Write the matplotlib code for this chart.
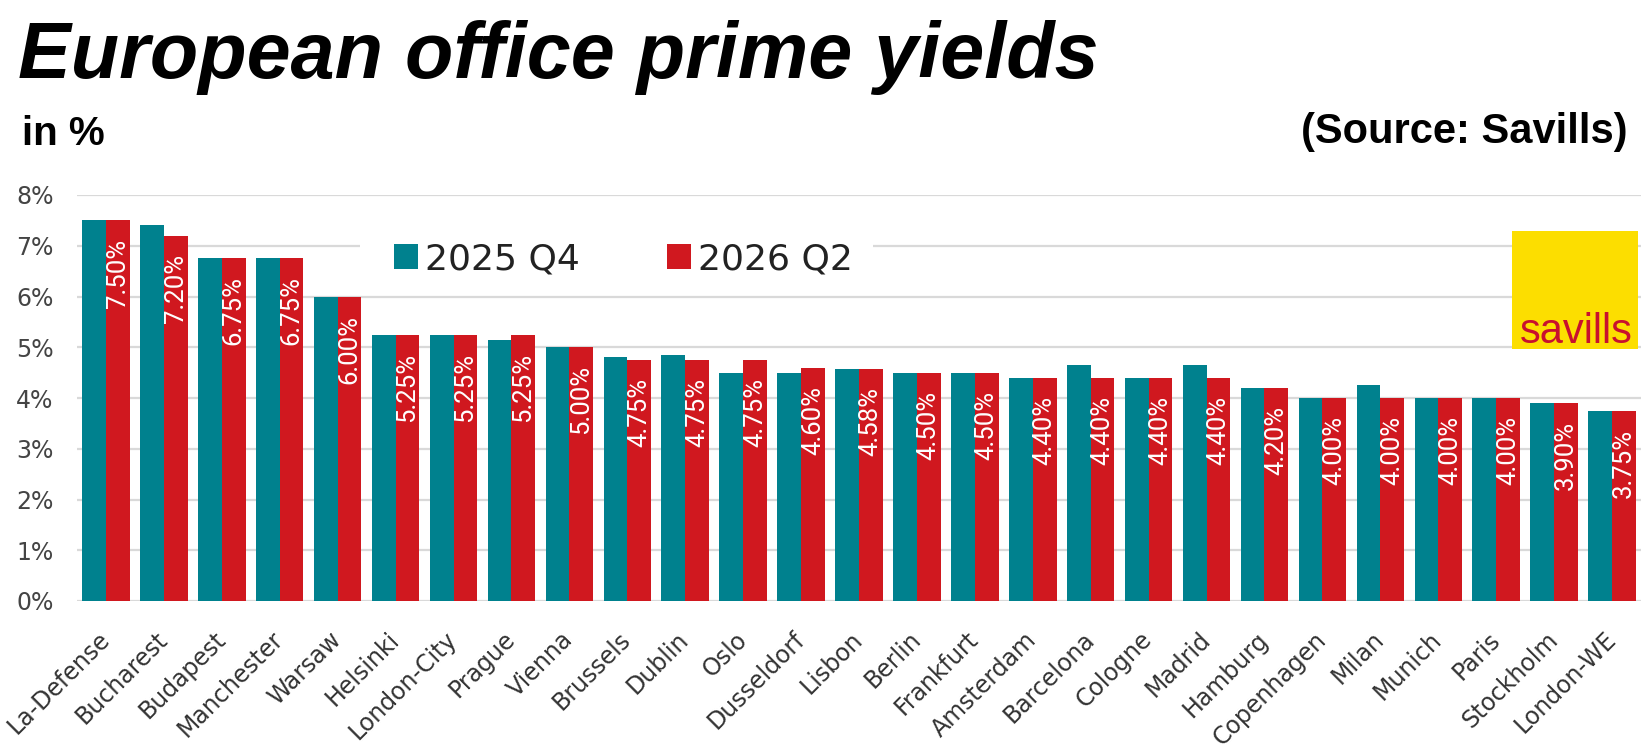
import matplotlib
matplotlib.use("Agg")
import matplotlib.pyplot as plt
from matplotlib.patches import Rectangle
import numpy as np

cities = ["La-Defense", "Bucharest", "Budapest", "Manchester", "Warsaw", "Helsinki",
          "London-City", "Prague", "Vienna", "Brussels", "Dublin", "Oslo", "Dusseldorf",
          "Lisbon", "Berlin", "Frankfurt", "Amsterdam", "Barcelona", "Cologne", "Madrid",
          "Hamburg", "Copenhagen", "Milan", "Munich", "Paris", "Stockholm", "London-WE"]
q4_2025 = [7.50, 7.40, 6.75, 6.75, 6.00, 5.25, 5.25, 5.15, 5.00, 4.80, 4.85, 4.50, 4.50,
           4.58, 4.50, 4.50, 4.40, 4.65, 4.40, 4.65, 4.20, 4.00, 4.25, 4.00, 4.00, 3.90, 3.75]
q2_2026 = [7.50, 7.20, 6.75, 6.75, 6.00, 5.25, 5.25, 5.25, 5.00, 4.75, 4.75, 4.75, 4.60,
           4.58, 4.50, 4.50, 4.40, 4.40, 4.40, 4.40, 4.20, 4.00, 4.00, 4.00, 4.00, 3.90, 3.75]
series_names = ["2025 Q4", "2026 Q2"]
yticks = [0, 1, 2, 3, 4, 5, 6, 7, 8]

TEAL = "#00818E"
RED = "#D0181F"

W, H = 1641, 751
fig = plt.figure(figsize=(W / 100, H / 100), dpi=100)
ax = fig.add_axes([77 / W, 1 - 601 / H, 1 - 77 / W, (601 - 195) / H])

x = np.arange(len(cities))
bw = 0.41
ax.bar(x - bw / 2, q4_2025, bw, color=TEAL, label=series_names[0], zorder=2)
ax.bar(x + bw / 2, q2_2026, bw, color=RED, label=series_names[1], zorder=2)

for xi, v in zip(x, q2_2026):
    ax.annotate(f"{v:.2f}%", xy=(xi + bw / 2, v), xytext=(0, -13),
                textcoords="offset points", rotation=90, ha="center", va="top",
                color="white", fontsize=18.5, family="Roboto", zorder=3)

ax.set_xlim(-0.5, len(cities) - 0.5)
ax.set_ylim(0, 8)
ax.set_yticks(yticks)
ax.set_yticklabels([f"{t}%" for t in yticks])
ax.set_xticks(x)
ax.set_xticklabels(cities, rotation=45, ha="right", va="center", rotation_mode="anchor")
ax.tick_params(axis="y", length=0, pad=17, labelsize=17, labelcolor="#444444")
ax.tick_params(axis="x", length=0, pad=25, labelsize=17, labelcolor="#333333")
for s in ax.spines.values():
    s.set_visible(False)
ax.yaxis.grid(True, color="#D9D9D9", linewidth=1.6)
ax.set_axisbelow(True)

# legend background (hides gridline behind legend)
fig.add_artist(Rectangle((360 / W, 1 - 285 / H), 513 / W, 52 / H,
                         transform=fig.transFigure, facecolor="white", edgecolor="none", zorder=1))
leg = fig.legend(loc="center", bbox_to_anchor=((394 + 853) / 2 / W, 1 - 259 / H),
                 bbox_transform=fig.transFigure, ncol=2, frameon=False, fontsize=26,
                 handlelength=0.67, handleheight=0.67, handletextpad=0.2,
                 columnspacing=2.4, borderpad=0.2)
for t in leg.get_texts():
    t.set_color("#222222")
leg.set_zorder(2)

# savills logo
fig.add_artist(Rectangle((1512 / W, 1 - 349 / H), 126 / W, 118 / H,
                         transform=fig.transFigure, facecolor="#FCDE00", edgecolor="none", zorder=3))
fig.text(1576 / W, 1 - 343 / H, "savills", ha="center", va="baseline", fontsize=30,
         family="Liberation Sans", color="#C8102E", zorder=4)

# titles
fig.text(18 / W, 1 - 78 / H, "European office prime yields", fontsize=57,
         family="Liberation Sans", fontweight="bold", fontstyle="italic",
         va="baseline", ha="left", color="black")
fig.text(22 / W, 1 - 145 / H, "in %", fontsize=29, family="Liberation Sans",
         fontweight="bold", va="baseline", ha="left", color="black")
fig.text(1628 / W, 1 - 143 / H, "(Source: Savills)", fontsize=30, family="Liberation Sans",
         fontweight="bold", va="baseline", ha="right", color="black")

fig.savefig("out.png", dpi=100, facecolor="white")
